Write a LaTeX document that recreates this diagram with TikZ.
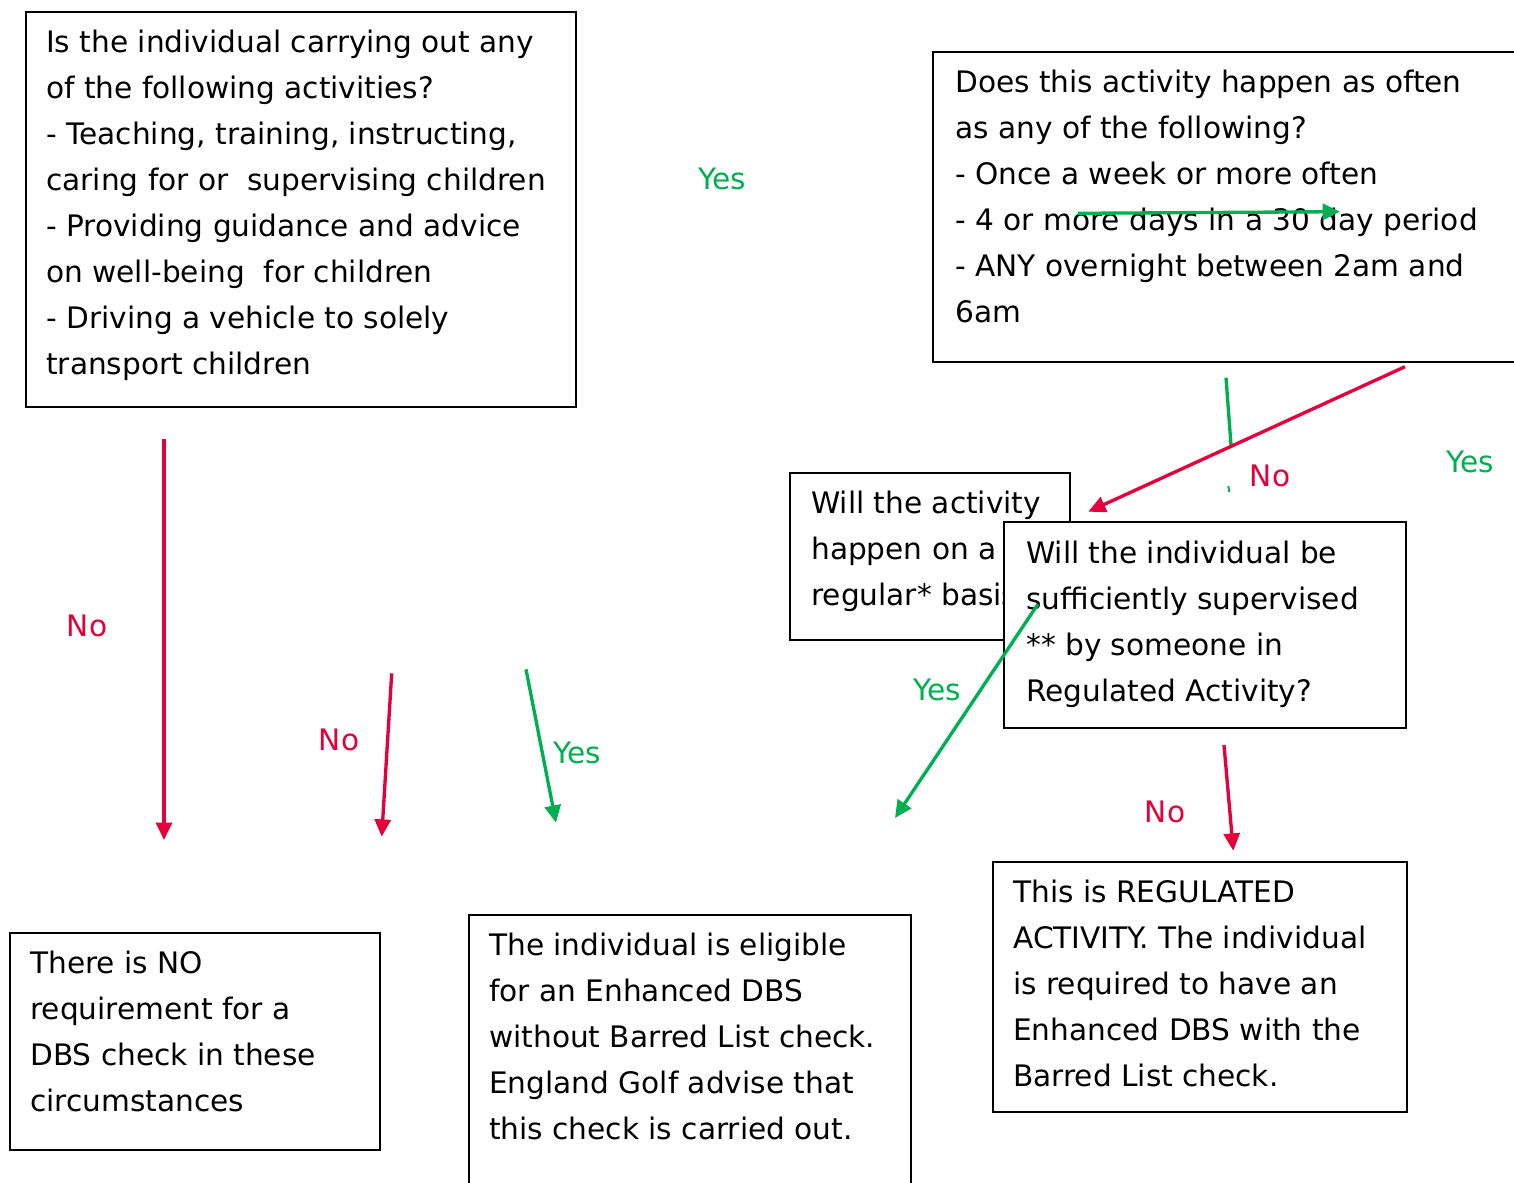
\documentclass[tikz,border=0pt]{standalone}
\usepackage{fontspec}
\setmainfont{DejaVu Sans}
\usetikzlibrary{arrows.meta,fit}
\definecolor{rred}{RGB}{228,0,58}
\definecolor{ggreen}{RGB}{0,176,80}
\begin{document}
\begin{tikzpicture}[x=0.75pt,y=-0.75pt,
  box/.style={draw=black, line width=1.5pt, fill=white, inner sep=0pt, rectangle},
  txt/.style={anchor=base west, inner sep=0pt, align=left, font=\fontsize{22.2}{34.5}\selectfont},
  lbl/.style={inner sep=0pt, font=\fontsize{22.2}{26}\selectfont},
  redarr/.style={draw=rred, line width=2.5pt, -{Triangle[length=13pt,width=12pt]}},
  grnarr/.style={draw=ggreen, line width=2.5pt, -{Triangle[length=13pt,width=12pt]}},
  grnline/.style={draw=ggreen, line width=2.5pt}]
\useasboundingbox (0,0) rectangle (1514,1182);
\clip (0,0) rectangle (1514,1182);
\fill[white] (0,0) rectangle (1514,1182);

% boxes (text nodes anchored at the baseline of their last line)
\node[box, fit={(26,12) (576,407)}] (b1) {};
\node[txt] (t1) at (46,374.7) {Is the individual carrying out any\\of the following activities?\\- Teaching, training, instructing,\\caring for or~ supervising children\\- Providing guidance and advice\\on well-being~ for children\\- Driving a vehicle to solely\\transport children};

\node[box, fit={(933,52) (1540,362)}] (b2) {};
\node[txt] (t2) at (955,322) {Does this activity happen as often\\as any of the following?\\- Once a week or more often\\- 4 or more days in a 30 day period\\- ANY overnight between 2am and\\6am};

\node[box, fit={(790,473) (1070,640)}] (b3) {};
\node[txt] (t3) at (811,605) {Will the activity\\happen on a\\regular* basis?};

\node[box, fit={(1004,522) (1406,728)}] (b4) {};
\node[txt] (t4) at (1026,701) {Will the individual be\\sufficiently supervised\\** by someone in\\Regulated Activity?};

\node[box, fit={(9.5,932.5) (380,1150)}] (b5) {};
\node[txt] (t5) at (30,1111) {There is NO\\requirement for a\\DBS check in these\\circumstances};

\node[box, fit={(468.5,915) (910.5,1200)}] (b6) {};
\node[txt] (t6) at (489,1139) {The individual is eligible\\for an Enhanced DBS\\without Barred List check.\\England Golf advise that\\this check is carried out.};

\node[box, fit={(992.5,861.5) (1406.5,1111.5)}] (b7) {};
\node[txt] (t7) at (1013,1086) {This is REGULATED\\ACTIVITY. The individual\\is required to have an\\Enhanced DBS with the\\Barred List check.};

% connector end points
\coordinate (g1s) at (1078,213.3);
\coordinate (g1e) at (1340,211.7);
\coordinate (g2s) at (1226,377.7);
\coordinate (g2e) at (1231,445);
\coordinate (g3s) at (1228.3,486);
\coordinate (g3e) at (1229.3,492);
\coordinate (r1s) at (1405,366.7);
\coordinate (r1e) at (1088.3,511.7);
\coordinate (r2s) at (164,439);
\coordinate (r2e) at (164,840);
\coordinate (r3s) at (391.7,673.3);
\coordinate (r3e) at (381.7,836.7);
\coordinate (g4s) at (526,669.3);
\coordinate (g4e) at (556,822.7);
\coordinate (g5s) at (1038,604);
\coordinate (g5e) at (895,818);
\coordinate (r4s) at (1224,745);
\coordinate (r4e) at (1233.3,850.7);

% connectors
\draw[grnarr] (g1s) -- (g1e);
\draw[grnline] (g2s) -- (g2e);
\draw[draw=ggreen, line width=1.5pt] (g3s) -- (g3e);
\draw[redarr] (r1s) -- (r1e);
\draw[redarr] (r2s) -- (r2e);
\draw[redarr] (r3s) -- (r3e);
\draw[grnarr] (g4s) -- (g4e);
\draw[grnarr] (g5s) -- (g5e);
\draw[redarr] (r4s) -- (r4e);

% labels
\node[lbl, text=ggreen] (y1) at (722,179) {Yes};
\node[lbl, text=rred] (n1) at (1270,476) {No};
\node[lbl, text=ggreen] (y2) at (1470,462) {Yes};
\node[lbl, text=rred] (n2) at (87,626) {No};
\node[lbl, text=rred] (n3) at (339,740) {No};
\node[lbl, text=ggreen] (y3) at (577,753) {Yes};
\node[lbl, text=ggreen] (y4) at (937,690) {Yes};
\node[lbl, text=rred] (n4) at (1165,812) {No};
\end{tikzpicture}
\end{document}
